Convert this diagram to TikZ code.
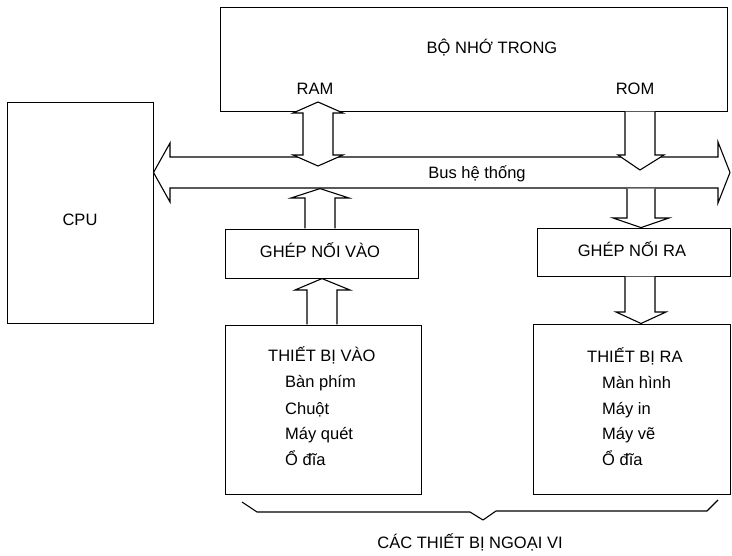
\documentclass[tikz,border=0pt]{standalone}
\usepackage{fontspec}
\setmainfont{Liberation Sans}
\begin{document}
\begin{tikzpicture}[x=1pt,y=-1pt,
  box/.style={draw, line width=1.1pt, inner sep=0pt, anchor=north west},
  blk/.style={draw, fill=white, line width=1.1pt, line join=miter},
  lbl/.style={font=\fontsize{16.5}{20}\selectfont, inner sep=0pt, anchor=base},
  lst/.style={font=\fontsize{16.5}{20}\selectfont, inner sep=0pt, anchor=base west},
  brc/.style={line width=1.1pt, line join=round}
]
\useasboundingbox (0,0) rectangle (732,556);

% boxes
\node[box, minimum width=146pt, minimum height=221pt] (cpu) at (7,102) {};
\node[box, minimum width=507pt, minimum height=104pt] (mem) at (220,7) {};
\node[box, minimum width=193pt, minimum height=49pt] (gvao) at (225,229) {};
\node[box, minimum width=193pt, minimum height=48pt] (gra) at (537,228) {};
\node[box, minimum width=196pt, minimum height=169pt] (tbvao) at (225,325) {};
\node[box, minimum width=197pt, minimum height=170pt] (tbra) at (533,324) {};

% system bus (double block arrow)
\coordinate (busL) at (153.5,172.5);
\coordinate (busR) at (730,172.5);
\filldraw[blk] (busL) -- (170,143) -- (170,157) -- (718,157) -- (718,142) -- (busR)
  -- (718,203) -- (718,188) -- (170,188) -- (170,202) -- cycle;

% RAM <-> bus
\filldraw[blk] (303,155) -- (303,113) -- (293,113) -- (318,102) -- (343,113) -- (333,113)
  -- (333,155) -- (343,155) -- (318,166) -- (293,155) -- cycle;

% ROM -> bus
\filldraw[blk] (625,111.6) -- (625,155) -- (618,155) -- (640,170) -- (664,155) -- (655,155) -- (655,111.6);

% bus -> ghep noi ra
\filldraw[blk] (627,188.6) -- (627,218) -- (613,218) -- (641,227.6) -- (669,218) -- (655,218) -- (655,188.6);

% ghep noi ra -> thiet bi ra
\filldraw[blk] (625,276.6) -- (625,312) -- (616,312) -- (641,323.5) -- (666,312) -- (655,312) -- (655,276.6);

% ghep noi vao -> bus
\filldraw[blk] (305,228.4) -- (305,198) -- (291,198) -- (320,188.6) -- (349,198) -- (335,198) -- (335,228.4);

% thiet bi vao -> ghep noi vao
\filldraw[blk] (307,324.4) -- (307,290) -- (295,290) -- (322,278.6) -- (350,290) -- (337,290) -- (337,324.4);

% labels
\node[lbl] (memt) at (492,54) {BỘ NHỚ TRONG};
\node[lbl] (ramt) at (315,95) {RAM};
\node[lbl] (romt) at (635,95) {ROM};
\node[lbl] (bust) at (477,179) {Bus hệ thống};
\node[lbl] (cput) at (80,226) {CPU};
\node[lbl] (gvaot) at (320,258) {GHÉP NỐI VÀO};
\node[lbl] (grat) at (632,257) {GHÉP NỐI RA};

% input devices list
\node[lst] (v0) at (268,362) {THIẾT BỊ VÀO};
\node[lst] (v1) at (285,388) {Bàn phím};
\node[lst] (v2) at (285,414) {Chuột};
\node[lst] (v3) at (285,439) {Máy quét};
\node[lst] (v4) at (285,465) {Ổ đĩa};

% output devices list
\node[lst] (r0) at (587,363) {THIẾT BỊ RA};
\node[lst] (r1) at (602,389) {Màn hình};
\node[lst] (r2) at (602,414) {Máy in};
\node[lst] (r3) at (602,440) {Máy vẽ};
\node[lst] (r4) at (602,466) {Ổ đĩa};

% brace
\coordinate (brL) at (242,502);
\coordinate (brM) at (483,520);
\coordinate (brR) at (718,500);
\draw[brc] (brL) -- (257,512) -- (470,512) -- (brM) -- (496,511) -- (707,511) -- (brR);
\node[lbl] (ngoaivi) at (470,548) {CÁC THIẾT BỊ NGOẠI VI};
\end{tikzpicture}
\end{document}
